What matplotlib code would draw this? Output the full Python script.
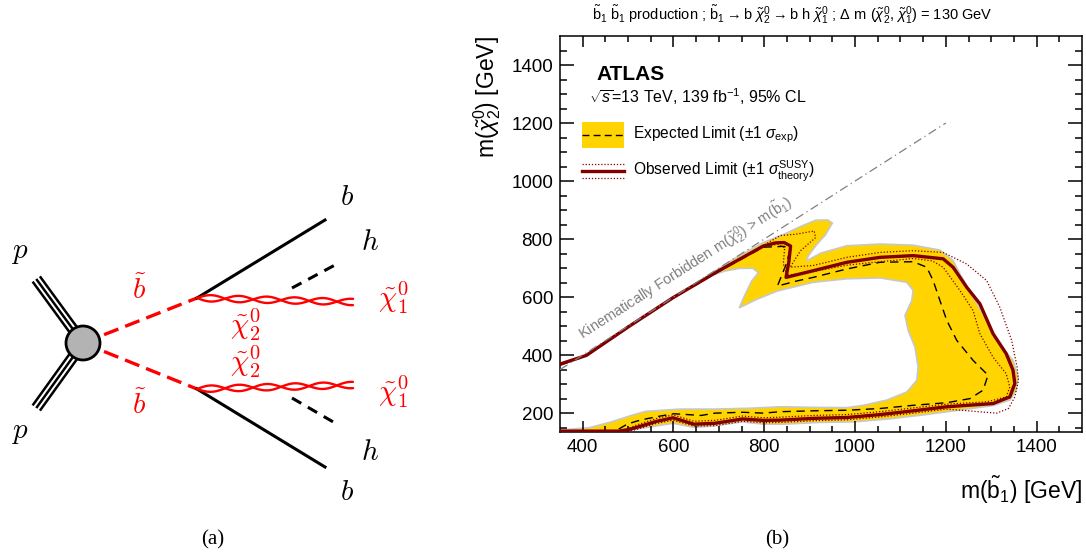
import numpy as np
import matplotlib
matplotlib.use("Agg")
import matplotlib.pyplot as plt
from matplotlib.patches import Circle, Rectangle, Polygon

plt.rcParams['font.family'] = ['Liberation Sans', 'DejaVu Sans']
plt.rcParams['mathtext.fontset'] = 'custom'
plt.rcParams['mathtext.rm'] = 'Liberation Sans'
plt.rcParams['mathtext.it'] = 'Liberation Sans:italic'
plt.rcParams['mathtext.bf'] = 'Liberation Sans:bold'

# ---- exclusion contours, m(sbottom) vs m(chi2) in GeV ----
band_outer_x = [670, 737, 798, 844, 875, 913, 940, 950, 935, 915, 897, 893, 925, 982, 1055, 1128, 1187,
                1216, 1231, 1260, 1290, 1311, 1348, 1359, 1355, 1341, 1304, 1228, 1151, 1074, 998,
                921, 844, 798, 752, 691, 645, 599, 538, 500, 461, 350]
band_outer_y = [668, 735, 788, 817, 840, 865, 866, 855, 815, 780, 742, 725, 752, 777, 783, 779, 762,
                726, 680, 600, 520, 451, 382, 325, 279, 245, 226, 210, 194, 180, 170, 168, 162, 162,
                170, 156, 151, 165, 150, 141, 131, 131]
band_inner_x = [350, 415, 461, 507, 538, 615, 691, 768, 835, 908, 982, 1018, 1070, 1114, 1136, 1139,
                1132, 1117, 1110, 1125, 1128, 1114, 1055, 982, 908, 829, 783, 745, 756, 772, 787, 775,
                745, 714, 690]
band_inner_y = [142, 150, 169, 192, 206, 214, 214, 217, 222, 220, 219, 227, 245, 273, 313, 359, 428,
                485, 537, 588, 623, 651, 666, 663, 651, 621, 592, 563, 603, 655, 684, 699, 699, 690, 678]

exp_x = [350, 408, 503, 599, 699, 798, 844, 856, 850, 829, 870, 908, 982, 1055, 1128, 1158, 1172, 1187,
         1202, 1224, 1260, 1293, 1282, 1253, 1202, 1128, 1055, 982, 908, 835, 798, 752, 691, 661, 601,
         571, 542, 520, 498, 476, 460]
exp_y = [365, 397, 498, 596, 688, 772, 775, 760, 720, 638, 655, 668, 697, 720, 722, 703, 657, 588, 520,
         451, 382, 331, 279, 250, 236, 227, 216, 210, 208, 205, 200, 203, 200, 192, 198, 190, 181, 173,
         162, 142, 135]

obs_x = [350, 408, 503, 599, 699, 798, 825, 844, 858, 854, 848, 908, 982, 1055, 1128, 1194, 1216, 1246,
         1275, 1304, 1333, 1348, 1352, 1341, 1304, 1202, 1128, 1055, 982, 908, 835, 798, 752, 691, 645,
         599, 561, 517, 500, 479, 350]
obs_y = [369, 399, 500, 598, 690, 776, 787, 788, 776, 720, 668, 691, 720, 737, 743, 732, 703, 634, 577,
         474, 405, 348, 302, 256, 233, 222, 208, 195, 185, 182, 176, 175, 180, 165, 162, 184, 171, 150,
         143, 138, 138]

obs_dn_x = [350, 408, 503, 599, 699, 798, 830, 845, 842, 850, 908, 982, 1055, 1128, 1170, 1194, 1231,
            1260, 1275, 1304, 1333, 1341, 1333, 1290, 1202, 1128, 1055, 982, 908, 835, 798, 752, 691,
            645, 599, 561, 517, 490, 470]
obs_dn_y = [369, 399, 500, 598, 690, 776, 782, 770, 715, 675, 688, 710, 722, 733, 725, 703, 623, 554,
            474, 393, 336, 290, 256, 239, 231, 218, 205, 195, 192, 186, 184, 190, 175, 172, 194, 181,
            158, 140, 135]

obs_up_x = [350, 408, 503, 599, 699, 798, 835, 871, 910, 913, 880, 857, 908, 982, 1055, 1128, 1194,
            1246, 1290, 1319, 1345, 1357, 1360, 1352, 1338, 1312, 1202, 1128, 1055, 982, 908, 835, 798,
            752, 691, 645, 599, 561, 517, 495]
obs_up_y = [369, 399, 500, 598, 690, 778, 812, 817, 828, 805, 760, 703, 709, 737, 754, 760, 754, 714,
            657, 565, 451, 359, 313, 256, 216, 200, 214, 200, 187, 177, 174, 168, 167, 172, 157, 155,
            176, 164, 143, 135]

kin_x = [350, 1200]
kin_y = [350, 1200]

YELLOW = '#ffd400'
DRED = '#800000'
GREY = '#808080'

fig = plt.figure(figsize=(10.86, 5.53), dpi=100)

# ---------------- (a) Feynman diagram, drawn in pixel coordinates ----------------
axd = fig.add_axes([0, 0, 1, 1])
axd.set_xlim(0, 1086)
axd.set_ylim(553, 0)
axd.axis('off')


def triple(p0, p1, sep=4.5):
    p0 = np.asarray(p0, float); p1 = np.asarray(p1, float)
    d = p1 - p0
    n = np.array([-d[1], d[0]]) / np.hypot(*d)
    for k in (-1, 0, 1):
        a = p0 + k * sep * n
        b = p1 + k * sep * n
        axd.plot([a[0], b[0]], [a[1], b[1]], color='black', lw=1.8)


def wavy(p0, p1, amp=3.2, period=56.0):
    p0 = np.asarray(p0, float); p1 = np.asarray(p1, float)
    d = p1 - p0
    L = np.hypot(*d)
    n = np.array([-d[1], d[0]]) / L
    t = np.linspace(0, 1, 400)
    for ph in (0, np.pi):
        off = amp * np.sin(2 * np.pi * L * t / period + ph)
        pts = p0[None, :] + t[:, None] * d[None, :] + off[:, None] * n[None, :]
        axd.plot(pts[:, 0], pts[:, 1], color='red', lw=1.7, solid_capstyle='round', zorder=3)


blob = (83, 343)
triple((37, 280), blob)
triple((37, 407), blob)
for vtx in [(197, 298), (197, 389)]:
    axd.plot([blob[0], vtx[0]], [blob[1], vtx[1]], color='red', lw=2.4, dashes=(4.6, 2.2))
axd.add_patch(Circle(blob, 17, facecolor='#b3b3b3', edgecolor='black', lw=2, zorder=4))

axd.plot([197, 325], [298, 220], color='black', lw=2.2)
axd.plot([197, 325], [389, 467], color='black', lw=2.2)
axd.plot([292, 335], [288, 265], color='black', lw=2.2, dashes=(3.5, 2.5))
axd.plot([292, 335], [398, 423], color='black', lw=2.2, dashes=(3.5, 2.5))
wavy((197, 298), (353, 302))
wavy((197, 389), (353, 385))

lab = dict(fontsize=21, math_fontfamily='cm', ha='center', va='center')
axd.text(20, 252, r'$p$', color='black', **lab)
axd.text(20, 432, r'$p$', color='black', **lab)
axd.text(139, 290, r'$\tilde{b}$', color='red', **lab)
axd.text(139, 405, r'$\tilde{b}$', color='red', **lab)
axd.text(245, 325, r'$\tilde{\chi}_2^0$', color='red', **lab)
axd.text(245, 362, r'$\tilde{\chi}_2^0$', color='red', **lab)
axd.text(393, 298, r'$\tilde{\chi}_1^0$', color='red', **lab)
axd.text(393, 392, r'$\tilde{\chi}_1^0$', color='red', **lab)
axd.text(347, 197, r'$b$', color='black', **lab)
axd.text(347, 492, r'$b$', color='black', **lab)
axd.text(370, 242, r'$h$', color='black', **lab)
axd.text(370, 452, r'$h$', color='black', **lab)

fig.text(213 / 1086, 1 - 540 / 553, '(a)', fontsize=15, family='Liberation Serif',
         ha='center', va='center')
fig.text(777 / 1086, 1 - 540 / 553, '(b)', fontsize=15, family='Liberation Serif',
         ha='center', va='center')

# ---------------- (b) exclusion plot ----------------
ax = fig.add_axes([560 / 1086, 1 - 432 / 553, 522 / 1086, 396 / 553])
ax.set_xlim(350, 1500)
ax.set_ylim(135, 1500)

band = Polygon(np.column_stack([band_outer_x + band_inner_x, band_outer_y + band_inner_y]),
               closed=True, facecolor=YELLOW, edgecolor='#c8c8c8', lw=1.2, zorder=1)
ax.add_patch(band)
ax.plot(exp_x, exp_y, color='black', lw=1.0, dashes=(6, 4), zorder=3)
ax.plot(obs_up_x, obs_up_y, color=DRED, lw=0.9, ls=(0, (1, 1.5)), zorder=3)
ax.plot(obs_dn_x, obs_dn_y, color=DRED, lw=0.9, ls=(0, (1, 1.5)), zorder=3)
ax.plot(obs_x, obs_y, color=DRED, lw=2.4, zorder=4, solid_joinstyle='round')
ax.plot(kin_x, kin_y, color=GREY, lw=0.9, ls=(0, (7, 3, 1, 3)), zorder=5)

ax.text(625, 700, r'Kinematically Forbidden m($\tilde{\chi}_{2}^{0}$) > m($\tilde{\mathrm{b}}_{1}$)',
        color=GREY, fontsize=10.5, rotation=32.6, rotation_mode='anchor', ha='center', va='center')

# legend and labels drawn by hand, in axes fraction
ax.text(0.069, 0.902, 'ATLAS', transform=ax.transAxes, fontsize=15, fontweight='bold',
        ha='left', va='center')
ax.text(0.056, 0.846, r'$\sqrt{s}$=13 TeV, 139 fb$^{-1}$, 95% CL', transform=ax.transAxes,
        fontsize=11.5, ha='left', va='center')
ax.add_patch(Rectangle((0.042, 0.717), 0.081, 0.066, transform=ax.transAxes,
                       facecolor=YELLOW, edgecolor='none', zorder=6))
ax.plot([0.042, 0.123], [0.750, 0.750], transform=ax.transAxes, color='black', lw=1.0,
        dashes=(5, 3), zorder=7)
ax.text(0.140, 0.750, r'Expected Limit ($\pm$1 $\sigma_{\mathrm{exp}}$)', transform=ax.transAxes,
        fontsize=11.2, ha='left', va='center')
ax.plot([0.042, 0.123], [0.659, 0.659], transform=ax.transAxes, color=DRED, lw=2.4, zorder=7)
for yy in (0.677, 0.641):
    ax.plot([0.042, 0.123], [yy, yy], transform=ax.transAxes, color=DRED, lw=0.9,
            ls=(0, (1, 1.5)), zorder=7)
ax.text(0.140, 0.659, r'Observed Limit ($\pm$1 $\sigma^{\mathrm{SUSY}}_{\mathrm{theory}}$)',
        transform=ax.transAxes, fontsize=11.2, ha='left', va='center')

ax.set_xticks([400, 600, 800, 1000, 1200, 1400])
ax.set_yticks([200, 400, 600, 800, 1000, 1200, 1400])
ax.set_xticks(np.arange(400, 1500, 50), minor=True)
ax.set_yticks(np.arange(150, 1500, 50), minor=True)
ax.tick_params(which='both', direction='in', top=True, right=True, labelsize=13.5, pad=5, width=1.1)
ax.tick_params(axis='x', which='major', length=8)
ax.tick_params(axis='x', which='minor', length=4.5)
ax.tick_params(axis='y', which='major', length=10)
ax.tick_params(axis='y', which='minor', length=5)
for s in ax.spines.values():
    s.set_linewidth(1.1)

ax.text(1.0, -0.146, r'm($\tilde{\mathrm{b}}_{1}$) [GeV]', transform=ax.transAxes, fontsize=16.5,
        ha='right', va='center')
ax.text(-0.140, 1.0, r'm($\tilde{\chi}_{2}^{0}$) [GeV]', transform=ax.transAxes, fontsize=16.5,
        rotation=90, ha='center', va='top')

fig.text(792 / 1086, 1 - 15 / 553,
         r'$\tilde{\mathrm{b}}_{1}$ $\tilde{\mathrm{b}}_{1}$ production ; '
         r'$\tilde{\mathrm{b}}_{1} \rightarrow$b $\tilde{\chi}_{2}^{0} \rightarrow$b h '
         r'$\tilde{\chi}_{1}^{0}$ ; $\Delta$ m ($\tilde{\chi}_{2}^{0}$, $\tilde{\chi}_{1}^{0}$) = 130 GeV',
         fontsize=10.5, ha='center', va='center')

fig.savefig('out.png', dpi=100)
